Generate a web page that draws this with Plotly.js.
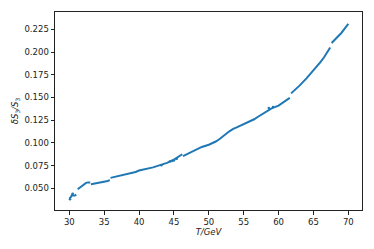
<!DOCTYPE html>
<html><head><meta charset="utf-8">
<script src="https://cdn.plot.ly/plotly-3.0.1.min.js"></script>
<style>html,body{margin:0;padding:0;background:#fff}#c{width:374px;height:249px}</style>
</head><body><div id="c"></div>
<script>
// T/GeV values (null separates visible gaps in the curve)
var T = [30.0,30.2,30.4,30.6,30.8,31.0,null,
         31.2,31.5,31.8,32.1,32.4,32.7,33.0,null,
         33.1,33.5,34.0,34.5,35.0,35.5,35.8,null,
         35.9,36.5,37.0,37.5,38.0,38.5,39.0,39.5,40.0,41.0,42.0,43.0,44.0,45.0,45.5,46.2,null,
         46.3,47.0,48.0,49.0,50.0,50.5,51.0,51.5,52.0,52.5,53.0,53.5,54.0,55.0,56.0,56.5,57.0,58.0,58.5,59.0,60.0,60.5,61.0,61.6,null,
         61.8,62.5,63.0,64.0,65.0,66.0,66.5,67.0,67.4,null,
         67.6,68.0,68.5,69.0,69.5,70.0];
var dS = [0.039,0.040,0.043,0.042,0.042,0.043,null,
          0.049,0.051,0.053,0.055,0.056,0.0565,0.0565,null,
          0.0545,0.055,0.0555,0.056,0.057,0.058,0.059,null,
          0.0615,0.0625,0.063,0.064,0.065,0.066,0.067,0.068,0.0695,0.071,0.073,0.0755,0.078,0.0815,0.084,0.0875,null,
          0.0855,0.088,0.092,0.0955,0.098,0.0995,0.1015,0.104,0.1075,0.110,0.113,0.1155,0.117,0.1205,0.124,0.126,0.1285,0.133,0.1355,0.138,0.141,0.1435,0.146,0.1495,null,
          0.1545,0.159,0.163,0.171,0.1795,0.189,0.194,0.1995,0.205,null,
          0.210,0.213,0.217,0.221,0.226,0.231];
// scattered stray points off the main curve
var Tstray = [30.1,30.5,43.2,44.4,44.7,45.0,45.4,58.6,59.2];
var dSstray = [0.038,0.044,0.0755,0.0795,0.080,0.0805,0.0825,0.1385,0.1395];
var xTicks = [30,35,40,45,50,55,60,65,70];
var yTicks = [0.050,0.075,0.100,0.125,0.150,0.175,0.200,0.225];

Plotly.newPlot('c', [{
  x: T, y: dS, type: 'scatter', mode: 'lines',
  line: {color: '#1f77b4', width: 2},
  connectgaps: false, hoverinfo: 'none'
},{
  x: Tstray, y: dSstray, type: 'scatter', mode: 'markers',
  marker: {color: '#1f77b4', size: 2.5}, hoverinfo: 'none'
}], {
  width: 374, height: 249,
  margin: {l: 55, r: 12, t: 12, b: 39},
  paper_bgcolor: '#fff', plot_bgcolor: '#fff',
  showlegend: false,
  font: {family: 'DejaVu Sans', size: 8.5, color: '#222'},
  xaxis: {
    range: [27.95, 71.96], tickvals: xTicks, ticktext: xTicks.map(String),
    showgrid: false, zeroline: false, showline: true, mirror: true,
    linecolor: '#222', linewidth: 1, ticks: 'outside', ticklen: 3.5, tickcolor: '#222',
    title: {text: '<i>T/GeV</i>', font: {size: 8.5}, standoff: 2}
  },
  yaxis: {
    range: [0.0261, 0.2441], tickvals: yTicks, ticktext: yTicks.map(function(v){return v.toFixed(3);}),
    showgrid: false, zeroline: false, showline: true, mirror: true,
    linecolor: '#222', linewidth: 1, ticks: 'outside', ticklen: 3.5, tickcolor: '#222',
    title: {text: '<i>δS</i><sub>3</sub><i>/S</i><sub>3</sub>', font: {size: 8.5}, standoff: 4}
  }
}, {staticPlot: true});
</script></body></html>
